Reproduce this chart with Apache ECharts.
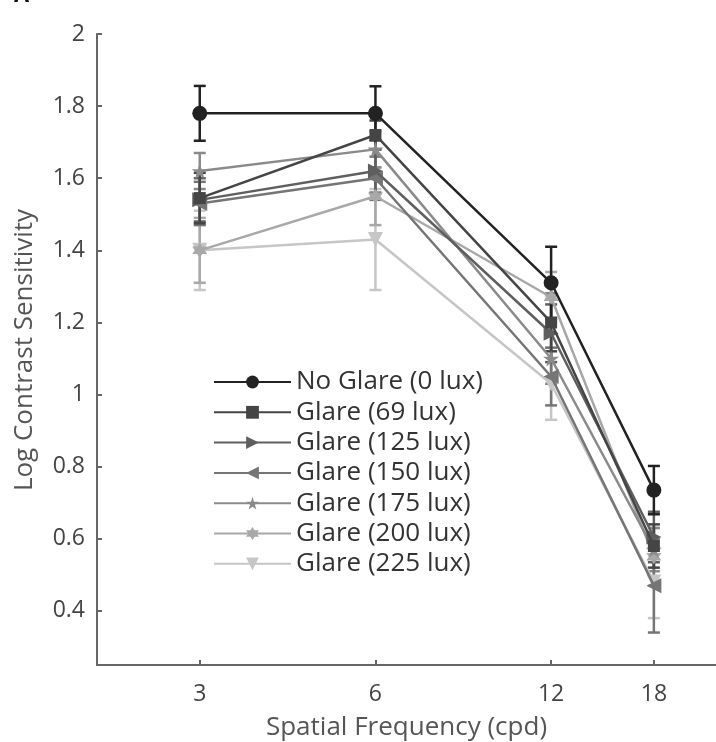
<!DOCTYPE html>
<html>
<head>
<meta charset="utf-8">
<script src="https://cdn.jsdelivr.net/npm/echarts@6/dist/echarts.min.js"></script>
<style>
  html, body { margin: 0; padding: 0; background: #fff; }
  #main { width: 716px; height: 742px; }
</style>
</head>
<body>
<div id="main"></div>
<script type="text/javascript">
    var freqs = [3, 6, 12, 18];
    var yTicks = [0.4, 0.6, 0.8, 1, 1.2, 1.4, 1.6, 1.8, 2];

    var names = ['No Glare (0 lux)', 'Glare (69 lux)', 'Glare (125 lux)', 'Glare (150 lux)',
                 'Glare (175 lux)', 'Glare (200 lux)', 'Glare (225 lux)'];

    var noGlare  = [1.78, 1.78, 1.31, 0.735];
    var glare69  = [1.545, 1.72, 1.20, 0.58];
    var glare125 = [1.54, 1.62, 1.17, 0.605];
    var glare150 = [1.53, 1.60, 1.05, 0.47];
    var glare175 = [1.62, 1.68, 1.10, 0.57];
    var glare200 = [1.40, 1.55, 1.27, 0.55];
    var glare225 = [1.40, 1.43, 1.03, 0.48];

    // error bar half widths
    var errNoGlare  = [0.076, 0.075, 0.10, 0.067];
    var err69  = [0.07, 0.04, 0.08, 0.06];
    var err125 = [0.06, 0.06, 0.08, 0.07];
    var err150 = [0.06, 0.06, 0.08, 0.13];
    var err175 = [0.05, 0.05, 0.07, 0.06];
    var err200 = [0.09, 0.08, 0.07, 0.08];
    var err225 = [0.11, 0.14, 0.10, 0.10];

    var values = [noGlare, glare69, glare125, glare150, glare175, glare200, glare225];
    var errors = [errNoGlare, err69, err125, err150, err175, err200, err225];
    var colors = ['#222222', '#454545', '#5f5f5f', '#757575', '#8a8a8a', '#a8a8a8', '#c6c6c6'];

    var pentagram = 'path://M50,0 L61,35 L98,35 L68,57 L79,91 L50,70 L21,91 L32,57 L2,35 L39,35 Z';
    var hexagram = 'path://M50,0 L64,25 L93,25 L79,50 L93,75 L64,75 L50,100 L36,75 L7,75 L21,50 L7,25 L36,25 Z';
    var symbols = ['circle', 'rect', 'triangle', 'triangle', pentagram, hexagram, 'triangle'];
    var rotates = [0, 0, -90, 90, 0, 0, 180];
    var sizes = [15, 12, 15, 15, 16, 15, 15];

    var myChart = echarts.init(document.getElementById('main'));

    var series = [];
    // error bars first so lines sit on top
    for (var i = values.length - 1; i >= 0; i--) {
        var ebData = [];
        for (var j = 0; j < freqs.length; j++) {
            ebData.push([freqs[j], values[i][j] - errors[i][j], values[i][j] + errors[i][j]]);
        }
        series.push({
            name: 'err' + i,
            type: 'custom',
            data: ebData,
            z: 2,
            renderItem: (function (col) {
                return function (params, api) {
                    var lo = api.coord([api.value(0), api.value(1)]);
                    var hi = api.coord([api.value(0), api.value(2)]);
                    var w = 6;
                    var st = { stroke: col, lineWidth: 2.5 };
                    return {
                        type: 'group',
                        children: [
                            { type: 'line', shape: { x1: lo[0], y1: lo[1], x2: hi[0], y2: hi[1] }, style: st },
                            { type: 'line', shape: { x1: lo[0] - w, y1: lo[1], x2: lo[0] + w, y2: lo[1] }, style: st },
                            { type: 'line', shape: { x1: hi[0] - w, y1: hi[1], x2: hi[0] + w, y2: hi[1] }, style: st }
                        ]
                    };
                };
            })(colors[i])
        });
    }
    for (var i = values.length - 1; i >= 0; i--) {
        var d = [];
        for (var j = 0; j < freqs.length; j++) {
            d.push([freqs[j], values[i][j]]);
        }
        series.push({
            name: names[i],
            type: 'line',
            data: d,
            z: 3 + (values.length - i),
            symbol: symbols[i],
            symbolSize: sizes[i],
            symbolRotate: rotates[i],
            showAllSymbol: true,
            lineStyle: { color: colors[i], width: 2.5 },
            itemStyle: { color: colors[i], borderWidth: 0 },
            emphasis: { disabled: true }
        });
    }

    var option = {
        animation: false,
        backgroundColor: '#fff',
        textStyle: { fontFamily: 'Open Sans' },
        grid: { left: 97, top: 34, right: 0, bottom: 77, containLabel: false, outerBoundsMode: 'none' },
        legend: {
            data: names,
            orient: 'vertical',
            left: 213,
            top: 369,
            padding: 0,
            itemWidth: 77,
            itemHeight: 16,
            itemGap: 4.3,
            textStyle: { fontSize: 26, color: '#333', fontFamily: 'Open Sans' },
            selectedMode: false
        },
        graphic: [
            {
                type: 'text', left: 14, top: -15,
                style: { text: 'A', fontSize: 22, fontWeight: 'bold', fill: '#111', fontFamily: 'Open Sans' }
            },
            {
                type: 'text', x: 12, y: 350, rotation: Math.PI / 2,
                style: { text: 'Log Contrast Sensitivity', fontSize: 26, fill: '#555', fontFamily: 'Open Sans',
                         align: 'center', verticalAlign: 'top' }
            }
        ],
        xAxis: {
            type: 'log',
            logBase: 2,
            min: 2,
            max: 23,
            name: 'Spatial Frequency (cpd)',
            nameLocation: 'middle',
            nameGap: 50,
            nameTextStyle: { fontSize: 26, color: '#555', verticalAlign: 'top' },
            axisLine: { lineStyle: { color: '#666', width: 2 } },
            axisTick: { inside: true, length: 5, customValues: freqs, lineStyle: { color: '#666', width: 2 } },
            axisLabel: { customValues: freqs, fontSize: 23, color: '#444', margin: 18 },
            splitLine: { show: false },
            minorTick: { show: false }
        },
        yAxis: {
            type: 'value',
            min: 0.25,
            max: 2,
            axisLine: { show: true, lineStyle: { color: '#666', width: 2 } },
            axisTick: { show: true, inside: true, length: 5, customValues: yTicks, lineStyle: { color: '#666', width: 2 } },
            axisLabel: {
                customValues: yTicks, fontSize: 23, color: '#444', margin: 12,
                formatter: function (v) { return String(+v.toFixed(1)); }
            },
            splitLine: { show: false }
        },
        series: series
    };
    myChart.setOption(option);
</script>
</body>
</html>
